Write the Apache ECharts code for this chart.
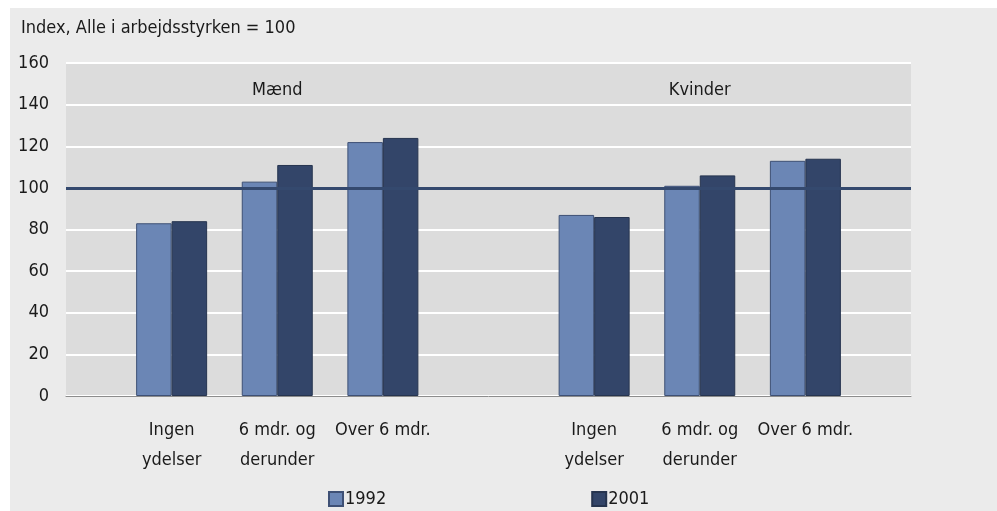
<!DOCTYPE html>
<html>
<head>
<meta charset="utf-8">
<script src="https://cdn.jsdelivr.net/npm/echarts@6/dist/echarts.min.js"></script>
<style>
  html, body { margin: 0; padding: 0; background: #ffffff; }
  #chart { position: absolute; left: 10px; top: 8px; width: 987px; height: 503px; background: #ebebeb; }
</style>
</head>
<body>
<div id="chart"></div>
<script>
// categories: blank slots at the edges and between the two groups
const categories = ["", "Ingen\nydelser", "6 mdr. og\nderunder", "Over 6 mdr.", "",
                    "Ingen\nydelser", "6 mdr. og\nderunder", "Over 6 mdr.", ""];
const values1992 = ["-", 83, 103, 122, "-", 87, 101, 113, "-"];
const values2001 = ["-", 84, 111, 124, "-", 86, 106, 114, "-"];
const groupLabels = ["Mænd", "Kvinder"];
const groupIndex = [2, 6];
const groupLabelY = 147;
const refValue = 100;

const font = "'Liberation Sans Narrow', 'DejaVu Sans Condensed', sans-serif";
const chart = echarts.init(document.getElementById("chart"));

const option = {
  animation: false,
  title: {
    text: "Index, Alle i arbejdsstyrken = 100",
    left: 11,
    top: 11,
    padding: 0,
    textStyle: { fontFamily: font, fontSize: 18, fontWeight: "normal", color: "#1a1a1a" }
  },
  legend: {
    left: 318,
    bottom: 3,
    padding: 0,
    itemGap: 205,
    itemWidth: 14,
    itemHeight: 14,
    icon: "rect",
    textStyle: { fontFamily: font, fontSize: 18, color: "#1a1a1a", padding: [0, 0, 0, -3] },
    data: ["1992", "2001"]
  },
  grid: {
    left: 56,
    right: 86,
    top: 55,
    bottom: 115,
    show: true,
    backgroundColor: "#dcdcdc",
    borderWidth: 0,
    containLabel: false
  },
  xAxis: {
    type: "category",
    data: categories,
    boundaryGap: false,
    axisLine: { lineStyle: { color: "#8c8c8c", width: 1 } },
    axisTick: { show: false },
    splitLine: { show: false },
    axisLabel: {
      interval: 0,
      margin: 19,
      fontFamily: font,
      fontSize: 18,
      lineHeight: 30,
      color: "#1a1a1a"
    }
  },
  yAxis: {
    type: "value",
    min: 0,
    max: 160,
    interval: 20,
    axisLine: { show: false },
    axisTick: { show: false },
    splitLine: { lineStyle: { color: "#ffffff", width: 2 } },
    axisLabel: { margin: 17, fontFamily: font, fontSize: 18, color: "#1a1a1a" }
  },
  series: [
    {
      name: "1992",
      type: "bar",
      data: values1992,
      barWidth: 35.5,
      barGap: "0%",
      itemStyle: { color: "#6b86b5", borderColor: "#3e5075", borderWidth: 1 }
    },
    {
      name: "2001",
      type: "bar",
      data: values2001,
      barWidth: 35.5,
      itemStyle: { color: "#334569", borderColor: "#26344f", borderWidth: 1 },
      markLine: {
        silent: true,
        symbol: "none",
        label: { show: false },
        lineStyle: { color: "#34496e", width: 3, type: "solid" },
        data: [{ yAxis: refValue }]
      }
    },
    {
      name: "groups",
      type: "scatter",
      silent: true,
      symbolSize: 0,
      itemStyle: { opacity: 1 },
      data: groupLabels.map((g, i) => ({ name: g, value: [groupIndex[i], groupLabelY] })),
      label: {
        show: true,
        position: "inside",
        formatter: p => p.name,
        fontFamily: font,
        fontSize: 18,
        color: "#1a1a1a"
      }
    }
  ]
};
chart.setOption(option);
</script>
</body>
</html>
